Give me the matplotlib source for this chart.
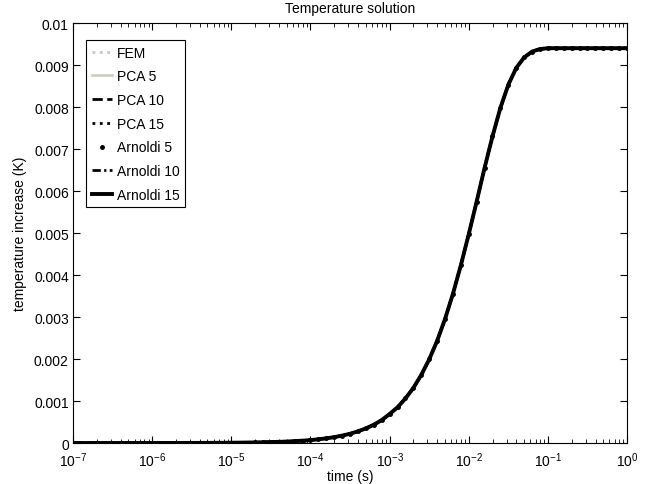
import matplotlib
matplotlib.use('Agg')
import matplotlib.pyplot as plt

plt.rcParams['font.family'] = ['Liberation Sans', 'DejaVu Sans']
plt.rcParams['mathtext.fontset'] = 'custom'
plt.rcParams['mathtext.rm'] = 'Liberation Sans'
plt.rcParams['mathtext.default'] = 'regular'

# exponents of time (s), steps of 0.1 decade from 1e-7 to 1e0
log_t = [-7.0, -6.9, -6.8, -6.7, -6.6, -6.5, -6.4, -6.3, -6.2, -6.1,
         -6.0, -5.9, -5.8, -5.7, -5.6, -5.5, -5.4, -5.3, -5.2, -5.1,
         -5.0, -4.9, -4.8, -4.7, -4.6, -4.5, -4.4, -4.3, -4.2, -4.1,
         -4.0, -3.9, -3.8, -3.7, -3.6, -3.5, -3.4, -3.3, -3.2, -3.1,
         -3.0, -2.9, -2.8, -2.7, -2.6, -2.5, -2.4, -2.3, -2.2, -2.1,
         -2.0, -1.9, -1.8, -1.7, -1.6, -1.5, -1.4, -1.3, -1.2, -1.1,
         -1.0, -0.9, -0.8, -0.7, -0.6, -0.5, -0.4, -0.3, -0.2, -0.1, 0.0]

# temperature increase (K)
temp = [0.0, 0.0, 0.0, 0.0, 0.0, 0.0, 0.0, 0.0, 0.0, 0.0,
        0.0000007, 0.0000009, 0.0000011, 0.0000014, 0.0000018, 0.0000022, 0.0000028, 0.0000035, 0.0000045, 0.0000056,
        0.0000071, 0.0000089, 0.0000112, 0.0000141, 0.0000178, 0.0000224, 0.0000282, 0.0000354, 0.0000445, 0.000056,
        0.00007, 0.0000886, 0.000111, 0.00014, 0.000176, 0.000221, 0.000277, 0.000348, 0.000435, 0.000545,
        0.00069, 0.00085, 0.00106, 0.00131, 0.00162, 0.00199, 0.00243, 0.00295, 0.00355, 0.00423,
        0.00497, 0.00575, 0.00655, 0.0073, 0.00798, 0.00853, 0.00893, 0.00918, 0.00932, 0.00938,
        0.0094, 0.0094, 0.0094, 0.0094, 0.0094, 0.0094, 0.0094, 0.0094, 0.0094, 0.0094, 0.0094]

t = [10 ** e for e in log_t]

fs = 10

fig = plt.figure(figsize=(6.65, 4.85), dpi=100)
ax = fig.add_axes([0.1098, 0.0845, 0.8331, 0.866])

# all reduced models coincide with the FEM solution
ax.plot(t, temp, color='#c8c8c8', linestyle=':', linewidth=2, label='FEM')
ax.plot(t, temp, color='#d4cfc4', linestyle='-', linewidth=2, label='PCA 5')
ax.plot(t, temp, color='black', linestyle='--', linewidth=2, label='PCA 10')
ax.plot(t, temp, color='black', linestyle=':', linewidth=2, label='PCA 15')
ax.plot(t, temp, color='black', linestyle='none', marker='.', markersize=5, label='Arnoldi 5')
ax.plot(t, temp, color='black', linestyle=(0, (3, 1.2, 0.8, 1.2)), linewidth=2, label='Arnoldi 10')
ax.plot(t, temp, color='black', linestyle='-', linewidth=2.8, label='Arnoldi 15')

ax.set_xscale('log')
ax.set_xlim(1e-7, 1)
ax.set_ylim(0, 0.01)
ax.set_xticks([10.0 ** k for k in range(-7, 1)])
ax.set_xticklabels(['$10^{%d}$' % k for k in range(-7, 1)])
ax.set_yticks([0.001 * k for k in range(11)])
ax.set_yticklabels(['0'] + ['%g' % (0.001 * k) for k in range(1, 11)])
ax.tick_params(which='both', direction='in', top=True, right=True, labelsize=fs)
ax.tick_params(axis='x', pad=5)
ax.tick_params(axis='y', pad=3)
ax.tick_params(which='major', length=5)
ax.tick_params(which='minor', length=3)

ax.set_title('Temperature solution', fontsize=fs, pad=8)
ax.set_xlabel('time (s)', fontsize=fs, labelpad=0)
ax.set_ylabel('temperature increase (K)', fontsize=fs, labelpad=5)

leg = ax.legend(loc='upper left', bbox_to_anchor=(13 / 554, 1 - 17 / 420),
                fontsize=fs, fancybox=False, framealpha=1,
                edgecolor='black', handlelength=1.5, borderaxespad=0,
                labelspacing=0.7, handletextpad=0.3, borderpad=0.4)
leg.get_frame().set_linewidth(0.8)

plt.savefig('out.png', dpi=100)
